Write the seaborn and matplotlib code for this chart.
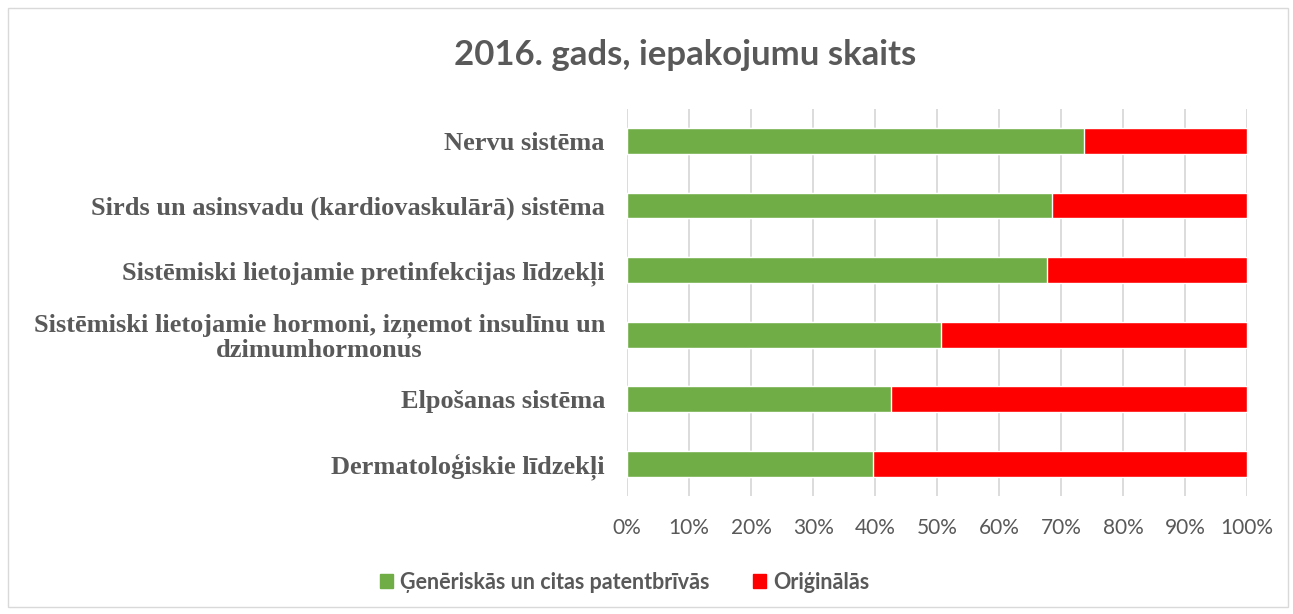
import matplotlib
matplotlib.use("Agg")
import matplotlib.pyplot as plt
import seaborn as sns
import pandas as pd
from matplotlib.patches import Patch, Rectangle
from matplotlib.ticker import PercentFormatter

categories = [
    "Nervu sistēma",
    "Sirds un asinsvadu (kardiovaskulārā) sistēma",
    "Sistēmiski lietojamie pretinfekcijas līdzekļi",
    "Sistēmiski lietojamie hormoni, izņemot insulīnu un\ndzimumhormonus",
    "Elpošanas sistēma",
    "Dermatoloģiskie līdzekļi",
]
generic = [73.7, 68.5, 67.7, 50.6, 42.6, 39.7]
original = [100 - g for g in generic]

df = pd.DataFrame({"cat": categories, "gen": generic, "orig": original})
df["total"] = df["gen"] + df["orig"]

sns.set_style("white")
plt.rcParams["font.family"] = ["Lato", "DejaVu Sans"]

fig = plt.figure(figsize=(12.93, 6.14), dpi=100)
ax = fig.add_axes([0.485, 0.192, 0.4795, 0.631])

# stacked: full red bar underneath, green share on top
sns.barplot(data=df, x="total", y="cat", orient="h", color="#ff0000",
            width=0.4, saturation=1, ax=ax, zorder=3)
sns.barplot(data=df, x="gen", y="cat", orient="h", color="#70ad47",
            width=0.4, saturation=1, ax=ax, zorder=4)

ax.set_xlim(0, 100)
ax.set_xticks(range(0, 101, 10))
ax.xaxis.set_major_formatter(PercentFormatter(decimals=0))
ax.grid(axis="x", color="#d9d9d9", lw=1.3, zorder=0)
ax.set_axisbelow(True)
for s in ax.spines.values():
    s.set_visible(False)
ax.tick_params(axis="both", length=0)
ax.tick_params(axis="x", labelsize=15, labelcolor="#595959", pad=16)
ax.tick_params(axis="y", pad=16)
ax.set_xlabel("")
ax.set_ylabel("")
for lab in ax.get_yticklabels():
    lab.set_fontfamily(["Liberation Serif", "DejaVu Serif"])
    lab.set_fontweight("bold")
    lab.set_fontsize(19)
    lab.set_color("#595959")
    lab.set_multialignment("center")
    lab.set_linespacing(1.05)

fig.text(0.53, 0.91, "2016. gads, iepakojumu skaits", ha="center", va="center",
         fontsize=25, fontweight="bold", color="#595959")

handles = [Patch(color="#70ad47", label="Ģenēriskās un citas patentbrīvās"),
           Patch(color="#ff0000", label="Oriģinālās")]
leg = fig.legend(handles=handles, loc="center", bbox_to_anchor=(0.483, 0.052),
                 ncol=2, frameon=False, handlelength=0.6, handleheight=0.6,
                 columnspacing=2.0, handletextpad=0.35,
                 prop={"size": 15.5, "weight": "bold"})
for t in leg.get_texts():
    t.set_color("#595959")

fig.patches.append(Rectangle((0.006, 0.012), 0.99, 0.975, transform=fig.transFigure,
                             fill=False, edgecolor="#d9d9d9", lw=1))

fig.savefig("out.png", dpi=100)
